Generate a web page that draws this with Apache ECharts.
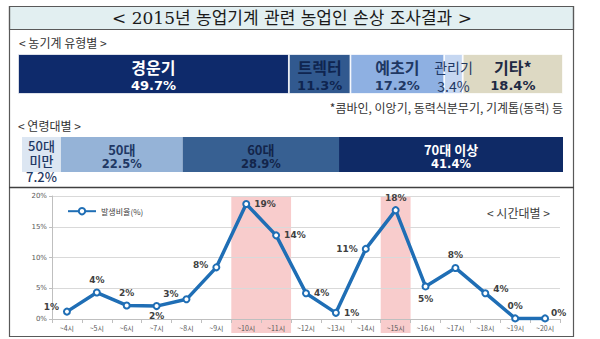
<!DOCTYPE html>
<html><head><meta charset="utf-8">
<script src="https://cdn.jsdelivr.net/npm/echarts@6/dist/echarts.min.js"></script>
<style>html,body{margin:0;padding:0;background:#fff}#c{width:600px;height:339px}</style>
</head><body><div id="c"></div>
<script>
// ---- data ----
const typeNames = ['경운기', '트렉터', '예초기', '관리기', '기타*'];
const typeValues = [49.7, 11.3, 17.2, 3.4, 18.4];
const ageNames = ['50대 미만', '50대', '60대', '70대 이상'];
const ageValues = [7.2, 22.5, 28.9, 41.4];
const hours = ['~4시','~5시','~6시','~7시','~8시','~9시','~10시','~11시','~12시','~13시','~14시','~15시','~16시','~17시','~18시','~19시','~20시'];
const rates = [1.2, 4.3, 2.2, 2.1, 3.2, 8.4, 18.7, 13.6, 4.2, 1.0, 11.4, 17.7, 5.3, 8.3, 4.2, 0.1, 0.1];
const highlightRanges = [['~10시', '~11시'], ['~15시', '~15시']];
const yMin = 0, yMax = 20, yStep = 5;
const seriesName = '발생비율(%)';

// ---- styles ----
const KR = '"Noto Sans CJK KR","Noto Sans",sans-serif';
const NUM = '"DejaVu Sans",sans-serif';
const typeStyle = [
  {bg:'#0e2a6b', fg:'#ffffff', bold:true},
  {bg:'#31598f', fg:'#0f2550', bold:true},
  {bg:'#8eb0e2', fg:'#1f3864', bold:true},
  {bg:'#c6d7f1', fg:'#1f3864', bold:false},
  {bg:'#ddd9c3', fg:'#1e2a44', bold:true}
];
const ageStyle = [
  {bg:'#dce6f2', fg:'#1f3864'},
  {bg:'#95b3d7', fg:'#1f3864'},
  {bg:'#376092', fg:'#13254a'},
  {bg:'#0f2a66', fg:'#ffffff'}
];
const labelPos = [
  {position:'left', offset:[0,-5]}, {position:'top'}, {position:'top'}, {position:'bottom', offset:[0,-3]},
  {position:'left', offset:[0,-5]}, {position:'left', offset:[0,-2]}, {position:'right'}, {position:'right'},
  {position:'right'}, {position:'right'}, {position:'left'}, {position:'top'},
  {position:'bottom'}, {position:'top'}, {position:'right', offset:[0,-4]}, {position:'top'}, {position:'right', offset:[-2,-5]}
];

const series = [];
typeNames.forEach((n, i) => {
  const s = typeStyle[i];
  const w = s.bold ? 'bold' : 'normal';
  series.push({
    type:'bar', name:n, stack:'type', xAxisIndex:0, yAxisIndex:0, barWidth:40,
    data:[typeValues[i]],
    itemStyle:{color:s.bg, borderColor:'#ffffff', borderWidth:0.8},
    label:{show:true, position:'inside', offset:[0,2],
      formatter: () => '{n|' + n + '}\n{v|' + typeValues[i] + '%}',
      rich:{
        n:{fontFamily:KR, fontSize: s.bold ? 16 : 14, fontWeight:w, color:s.fg, lineHeight:19},
        v:{fontFamily: s.bold ? NUM : KR, fontSize: s.bold ? 13 : 14, fontWeight:w, color:s.fg, lineHeight:19}
      }}
  });
});
ageNames.forEach((n, i) => {
  const s = ageStyle[i];
  const first = i === 0;
  series.push({
    type:'bar', name:n, stack:'age', xAxisIndex:1, yAxisIndex:1, barWidth:35,
    data:[ageValues[i]],
    itemStyle:{color:s.bg},
    label:{show:true, position:'inside', offset: first ? [0,6] : [0,2],
      formatter: () => first ? ('{n|' + n.split(' ').join('}\n{n|') + '}\n{n|' + ageValues[i] + '%}')
                             : ('{n|' + n + '}\n{v|' + ageValues[i] + '%}'),
      rich: first ? {n:{fontFamily:KR, fontSize:13, fontWeight:500, color:s.fg, lineHeight:15.5}}
                  : {n:{fontFamily:KR, fontSize:13, fontWeight:'bold', color:s.fg, lineHeight:15},
                     v:{fontFamily:NUM, fontSize:11.5, fontWeight:'bold', color:s.fg, lineHeight:15}}}
  });
});
// highlight bands
series.push({
  type:'line', xAxisIndex:2, yAxisIndex:2, data:[], silent:true, z:-5, zlevel:0,
  markArea:{silent:true, itemStyle:{color:'#f8cccc'},
    data: highlightRanges.map(r => [{xAxis: hours.indexOf(r[0]) - 0.5}, {xAxis: hours.indexOf(r[1]) + 0.5}])}
});
series.push({
  type:'line', name:seriesName, xAxisIndex:3, yAxisIndex:3, z:8,
  data: rates.map((v, i) => ({value:v, label:labelPos[i]})),
  symbol:'emptyCircle', symbolSize:6,
  lineStyle:{color:'#1f6eb5', width:3.5},
  itemStyle:{color:'#1f6eb5', borderWidth:1.5},
  label:{show:true, formatter: p => Math.round(p.value) + '%', fontFamily:NUM, fontSize:9, fontWeight:'bold', color:'#404040', distance:4}
});

const option = {
  animation:false,
  backgroundColor:'#ffffff',
  legend:{data:[seriesName], left:62, top:202, itemWidth:28, itemHeight:8, itemGap:4,
    textStyle:{fontFamily:KR, fontSize:8, color:'#404040'}},
  grid:[
    {left:18, width:545, top:54, height:40},
    {left:22, width:541, top:137, height:35},
    {left:52, right:40, top:196, bottom:6},
    {left:52, right:40, top:196, height:123}
  ],
  xAxis:[
    {type:'value', gridIndex:0, min:0, max:100, show:false},
    {type:'value', gridIndex:1, min:0, max:100, show:false},
    {type:'value', gridIndex:2, min:-0.5, max:hours.length - 0.5, show:false},
    {type:'category', gridIndex:3, data:hours, z:6,
      axisLine:{lineStyle:{color:'#bfbfbf'}}, axisTick:{show:true, length:4, lineStyle:{color:'#bfbfbf'}},
      axisLabel:{fontFamily:KR, fontSize:7, color:'#595959', margin:5, interval:0}}
  ],
  yAxis:[
    {type:'category', gridIndex:0, data:['유형'], show:false},
    {type:'category', gridIndex:1, data:['연령'], show:false},
    {type:'value', gridIndex:2, min:0, max:1, show:false},
    {type:'value', gridIndex:3, min:yMin, max:yMax, interval:yStep, z:6,
      axisLine:{show:true, lineStyle:{color:'#bfbfbf'}}, axisTick:{show:true, length:3, lineStyle:{color:'#bfbfbf'}},
      splitLine:{lineStyle:{color:'#d9d9d9'}},
      axisLabel:{formatter:'{value}%', fontFamily:NUM, fontSize:7, color:'#595959', margin:5}}
  ],
  graphic:[
    {type:'rect', shape:{x:9.5, y:6.5, width:564, height:23}, style:{fill:'#e2eff1', stroke:'#595959', lineWidth:1.2}, z:-1},
    {type:'rect', shape:{x:9.5, y:6.5, width:564, height:330}, style:{fill:'none', stroke:'#595959', lineWidth:1.2}, z:10},
    {type:'line', shape:{x1:9, y1:187.5, x2:574, y2:187.5}, style:{stroke:'#404040', lineWidth:1.5}, z:10},
    {type:'text', x:292, y:18, style:{text:'< 2015년 농업기계 관련 농업인 손상 조사결과 >', fill:'#1a1a1a',
      font:'17px "DejaVu Serif","Liberation Serif","Noto Sans CJK KR",serif', textAlign:'center', textVerticalAlign:'middle'}, z:11},
    {type:'text', x:19, y:42, style:{text:'< 농기계 유형별 >', fill:'#333333', font:'12px ' + KR, textVerticalAlign:'middle'}},
    {type:'text', x:563, y:107, style:{text:'*콤바인, 이앙기, 동력식분무기, 기계톱(동력) 등', fill:'#333333', font:'12px ' + KR, textAlign:'right', textVerticalAlign:'middle'}},
    {type:'text', x:18, y:125, style:{text:'< 연령대별 >', fill:'#333333', font:'12px ' + KR, textVerticalAlign:'middle'}},
    {type:'text', x:487, y:212, style:{text:'< 시간대별 >', fill:'#404040', font:'12px ' + KR, textVerticalAlign:'middle'}}
  ],
  series: series
};
const chart = echarts.init(document.getElementById('c'), null, {renderer:'svg'});
chart.setOption(option);
</script></body></html>
